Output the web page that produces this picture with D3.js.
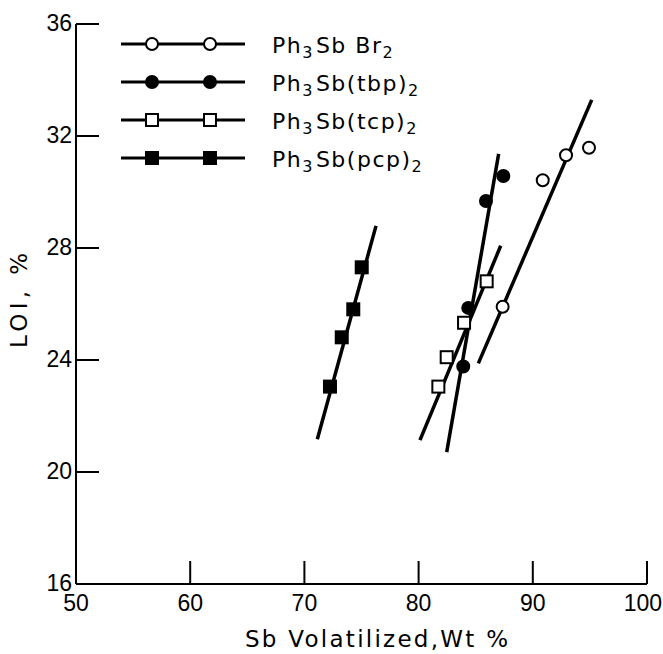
<!DOCTYPE html>
<html>
<head>
<meta charset="utf-8">
<script src="https://cdnjs.cloudflare.com/ajax/libs/d3/7.8.5/d3.min.js"></script>
<style>
  body { margin: 0; background: #fff; }
  svg text { font-family: 'DejaVu Sans', sans-serif; fill: #000; }
  svg text.tick { font-family: 'Liberation Sans', 'DejaVu Sans', sans-serif; }
</style>
</head>
<body>
<svg width="663" height="654"></svg>
<script>
// tick values
var xTicks = [50, 60, 70, 80, 90, 100];
var yTicks = [16, 20, 24, 28, 32, 36];

// Ph3SbBr2 (open circles)
var brX = [87.36, 90.87, 92.91, 94.92];
var brY = [25.90, 30.42, 31.31, 31.58];
var brFit = [[85.23, 23.88], [95.16, 33.29]];

// Ph3Sb(tbp)2 (filled circles)
var tbpX = [83.91, 84.35, 85.90, 87.42];
var tbpY = [23.77, 25.86, 29.68, 30.57];
var tbpFit = [[82.46, 20.71], [87.01, 31.36]];

// Ph3Sb(tcp)2 (open squares)
var tcpX = [81.73, 82.46, 83.98, 85.96];
var tcpY = [23.05, 24.10, 25.33, 26.81];
var tcpFit = [[80.12, 21.14], [87.19, 28.08]];

// Ph3Sb(pcp)2 (filled squares)
var pcpX = [72.24, 73.27, 74.28, 75.02];
var pcpY = [23.05, 24.81, 25.81, 27.31];
var pcpFit = [[71.13, 21.17], [76.27, 28.79]];

var series = [
  {name: ["Ph", "3", "Sb Br", "2"], xs: brX, ys: brY, fit: brFit, shape: "circle", filled: false},
  {name: ["Ph", "3", "Sb(tbp)", "2"], xs: tbpX, ys: tbpY, fit: tbpFit, shape: "circle", filled: true},
  {name: ["Ph", "3", "Sb(tcp)", "2"], xs: tcpX, ys: tcpY, fit: tcpFit, shape: "square", filled: false},
  {name: ["Ph", "3", "Sb(pcp)", "2"], xs: pcpX, ys: pcpY, fit: pcpFit, shape: "square", filled: true}
];

var W = 663;
var svg = d3.select("svg");
var x = d3.scaleLinear().domain([50, 100]).range([76, 647]);
var y = d3.scaleLinear().domain([16, 36]).range([584, 24]);

// axes: left line + bottom line, ticks pointing inward
var axisG = svg.append("g");
axisG.append("line")
  .attr("x1", x(50)).attr("x2", x(50))
  .attr("y1", y(16)).attr("y2", y(36))
  .attr("stroke", "#000").attr("stroke-width", 2);
axisG.append("line")
  .attr("x1", x(50)).attr("x2", x(100))
  .attr("y1", y(16)).attr("y2", y(16))
  .attr("stroke", "#000").attr("stroke-width", 2);

axisG.selectAll(".yt").data(yTicks.slice(1)).enter().append("line")
  .attr("x1", x(50)).attr("x2", x(50) + 23)
  .attr("y1", function (d) { return y(d); })
  .attr("y2", function (d) { return y(d); })
  .attr("stroke", "#000").attr("stroke-width", 2);
axisG.selectAll(".xt").data(xTicks.slice(1)).enter().append("line")
  .attr("x1", function (d) { return x(d); })
  .attr("x2", function (d) { return x(d); })
  .attr("y1", y(16)).attr("y2", y(16) - 23)
  .attr("stroke", "#000").attr("stroke-width", 2);

axisG.selectAll(".yl").data(yTicks).enter().append("text")
  .attr("class", "tick")
  .attr("x", x(50) - 4)
  .attr("y", function (d) { return y(d) + 7; })
  .attr("text-anchor", "end")
  .attr("font-size", 23)
  .text(function (d) { return d; });
axisG.selectAll(".xl").data(xTicks).enter().append("text")
  .attr("class", "tick")
  .attr("x", function (d) { return x(d); })
  .attr("y", 611)
  .attr("text-anchor", "middle")
  .attr("font-size", 23)
  .text(function (d) { return d; })
  .each(function () {
    // keep the last label inside the page
    var w = this.getComputedTextLength();
    var cx = +this.getAttribute("x");
    if (cx + w / 2 > W - 1) this.setAttribute("x", W - 1 - w / 2);
  });

svg.append("text")
  .attr("x", 245).attr("y", 647)
  .attr("font-size", 23)
  .attr("textLength", 263)
  .attr("lengthAdjust", "spacing")
  .text("Sb Volatilized,Wt %");
svg.append("text")
  .attr("transform", "translate(27,348) rotate(-90)")
  .attr("font-size", 23)
  .attr("textLength", 95)
  .attr("lengthAdjust", "spacing")
  .text("LOI, %");

// marker drawing
function marker(g, s, cx, cy) {
  var fill = s.filled ? "#000" : "#fff";
  if (s.shape === "circle") {
    g.append("circle").attr("cx", cx).attr("cy", cy).attr("r", 6)
      .attr("fill", fill).attr("stroke", "#000").attr("stroke-width", 2);
  } else {
    g.append("rect").attr("x", cx - 6).attr("y", cy - 6)
      .attr("width", 12).attr("height", 12)
      .attr("fill", fill).attr("stroke", "#000").attr("stroke-width", 2);
  }
}

var plot = svg.append("g");
series.forEach(function (s) {
  plot.append("line")
    .attr("x1", x(s.fit[0][0])).attr("y1", y(s.fit[0][1]))
    .attr("x2", x(s.fit[1][0])).attr("y2", y(s.fit[1][1]))
    .attr("stroke", "#000").attr("stroke-width", 3.5);
});
series.forEach(function (s) {
  s.xs.forEach(function (v, i) {
    marker(plot, s, x(v), y(s.ys[i]));
  });
});

// legend
var legend = svg.append("g");
series.forEach(function (s, i) {
  var ly = 44 + i * 38;
  legend.append("line")
    .attr("x1", 121).attr("x2", 245)
    .attr("y1", ly).attr("y2", ly)
    .attr("stroke", "#000").attr("stroke-width", 3);
  marker(legend, s, 152, ly);
  marker(legend, s, 210, ly);
  var t = legend.append("text")
    .attr("x", 272).attr("y", ly + 9)
    .attr("font-size", 22)
    .attr("letter-spacing", 1.5);
  t.append("tspan").text(s.name[0]);
  t.append("tspan").attr("dy", 5).attr("font-size", 16).text(s.name[1]);
  t.append("tspan").attr("dy", -5).attr("dx", 2).text(s.name[2]);
  t.append("tspan").attr("dy", 5).attr("font-size", 16).text(s.name[3]);
});
</script>
</body>
</html>
